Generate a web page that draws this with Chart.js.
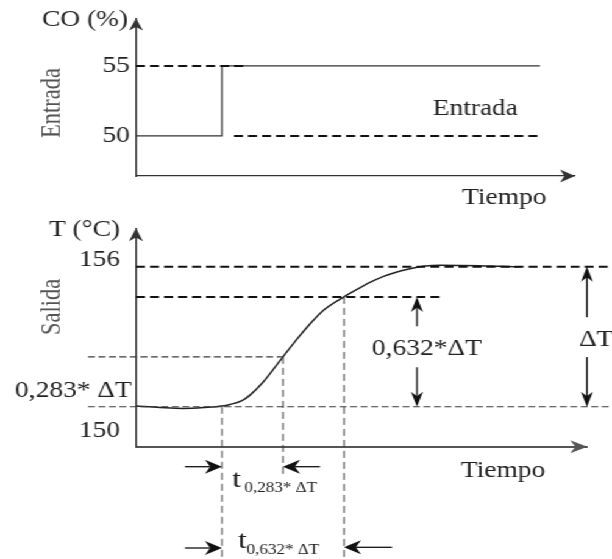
<!DOCTYPE html>
<html>
<head>
<meta charset="utf-8">
<script src="https://cdn.jsdelivr.net/npm/chart.js@4.4.1/dist/chart.umd.min.js"></script>
<style>
  html, body { margin: 0; padding: 0; background: #fff; overflow: hidden; }
  /* the sheet is laid out narrow and widened uniformly, like a wide-format figure */
  #sheet { position: absolute; left: 0; top: 0; width: 502px; height: 559px;
           transform: scaleX(1.21912); transform-origin: 0 0; }
  #sheet canvas { position: absolute; left: 0; }
  #entrada { top: 0; }
  #salida { top: 215px; }
</style>
</head>
<body>
<div id="sheet">
  <canvas id="entrada" width="502" height="215"></canvas>
  <canvas id="salida" width="502" height="344"></canvas>
</div>
<script>
// ---------- input step (controller output, %) ----------
const stepTime = 8.6;
const coLevels = [50, 55];
const coTime = [0, 8.6, 8.6, 40.4];
const coValue = [50, 50, 55, 55];
const coTicks = [50, 55];

// ---------- process response (temperature, °C) ----------
const tempTime = [0, 2.4, 4.7, 6.9, 8.6, 9.4, 10.6, 11.4, 12.7, 14.7, 16.1, 17.4, 18.7, 20.8, 22.1, 23.4, 24.7, 26.1, 27.4, 28.7, 30.4, 34.4, 36.4, 38.5];
const tempValue = [150.03, 149.97, 149.93, 149.97, 150.03, 150.10, 150.26, 150.50, 151.05, 152.14, 152.90, 153.55, 154.12, 154.71, 155.03, 155.33, 155.58, 155.78, 155.92, 156.02, 156.07, 156.05, 156.02, 156.0];
const tempTicks = [150, 156];
// crossing points used for the two-point method
const levelNames = ['0,283* ΔT', '0,632*ΔT'];
const levelTimes = [14.7, 20.8];
const levelValues = [152.14, 154.71];

// ---------- drawing helpers ----------
const STRETCH = 612 / 502;
const SERIF = '"Liberation Serif", "Times New Roman", serif';
const INK = '#222';

function font(size) { return size + 'px ' + SERIF; }

function head(ctx, x, y, dir, len, half) {
  const dx = dir[0], dy = dir[1], px = -dy, py = dx;
  const pt = (a, b) => [x + a / STRETCH, y + b];
  const p = [
    pt(0, 0),
    pt(-dx * len + px * half, -dy * len + py * half),
    pt(-dx * len * 0.7, -dy * len * 0.7),
    pt(-dx * len - px * half, -dy * len - py * half)
  ];
  ctx.beginPath();
  ctx.moveTo(p[0][0], p[0][1]);
  for (let i = 1; i < p.length; i++) ctx.lineTo(p[i][0], p[i][1]);
  ctx.closePath();
  ctx.fill();
}

function shaft(ctx, x1, y1, x2, y2) {
  ctx.beginPath();
  ctx.moveTo(x1, y1);
  ctx.lineTo(x2, y2);
  ctx.stroke();
}

function text(ctx, str, x, y, size, align) {
  ctx.font = font(size);
  ctx.textAlign = align || 'left';
  ctx.textBaseline = 'alphabetic';
  ctx.fillText(str, x, y);
}

function sideText(ctx, str, x, y, size) {
  ctx.save();
  ctx.translate(x, y);
  ctx.rotate(-Math.PI / 2);
  ctx.font = font(size);
  ctx.textAlign = 'center';
  ctx.textBaseline = 'middle';
  ctx.fillText(str, 0, 0);
  ctx.restore();
}

const THICK = { borderWidth: 2, borderColor: '#111', borderDash: [7.4, 4.1] };
const THIN = { borderWidth: 1.1, borderColor: '#3a3a3a', borderDash: [5.7, 2.9] };
const THIN_V = { borderWidth: 1.0, borderColor: '#3a3a3a', borderDash: [7, 4] };

function guide(points, style) {
  return Object.assign({
    data: points, showLine: true, pointRadius: 0, pointHoverRadius: 0,
    tension: 0, clip: false, fill: false
  }, style);
}

function frame(xMax, yMin, yMax, xHeight, axisColor, axisWidth) {
  return {
    x: {
      type: 'linear', min: 0, max: xMax,
      grid: { display: false, drawTicks: false },
      ticks: { display: false },
      border: { display: true, color: axisColor, width: axisWidth },
      afterFit: s => { s.height = xHeight; }
    },
    y: {
      type: 'linear', min: yMin, max: yMax,
      grid: { display: false, drawTicks: false },
      border: { display: true, color: '#333', width: 1.3 },
      ticks: { color: INK, padding: 5, font: { family: SERIF, size: 22.5 } },
      afterFit: s => { s.width = 111.55; }
    }
  };
}

function commonOptions(scales, padding) {
  return {
    responsive: false, animation: false, events: [],
    layout: { padding: padding },
    plugins: { legend: { display: false }, tooltip: { enabled: false } },
    scales: scales
  };
}

// ---------- upper panel: step in the input ----------
const topScales = frame(43.9, 47.14, 58.39, 39, '#333', 1.3);
topScales.y.afterBuildTicks = s => { s.ticks = coTicks.map(v => ({ value: v })); };

new Chart(document.getElementById('entrada'), {
  type: 'scatter',
  data: {
    datasets: [
      guide([{ x: 0, y: coLevels[1] }, { x: 11.1, y: coLevels[1] }], THICK),
      guide([{ x: 9.8, y: coLevels[0] }, { x: 40.4, y: coLevels[0] }], THICK),
      guide(coTime.map((t, i) => ({ x: t, y: coValue[i] })), { borderWidth: 1.3, borderColor: '#333' })
    ]
  },
  options: commonOptions(topScales, { left: 0, top: 18.5, right: 30.35, bottom: 0 }),
  plugins: [{
    id: 'entradaMarks',
    afterDraw(chart) {
      const { ctx, chartArea: a } = chart;
      ctx.save();
      ctx.fillStyle = '#333';
      head(ctx, a.left, a.top, [0, -1], 12, 7);
      head(ctx, a.right, a.bottom, [1, 0], 15, 6.5);
      ctx.fillStyle = INK;
      text(ctx, 'CO (%)', 34.5, 26, 22.5);
      text(ctx, 'Entrada', 354.9, 115, 22.5);
      text(ctx, 'Tiempo', 379.0, 204, 22.5);
      ctx.fillStyle = '#555';
      sideText(ctx, 'Entrada', 43.5, 103, 22.5);
      ctx.restore();
    }
  }]
});

// ---------- lower panel: temperature response ----------
const guideLeft = -4.8, guideRight = 47.6;
const guideFoot = 143.47, shortFoot = 147.0;

const botScales = frame(45.13, 148.29, 157.65, 112.3, '#555', 2);
botScales.y.ticks.display = false;
botScales.y.afterBuildTicks = s => { s.ticks = tempTicks.map(v => ({ value: v })); };

const spans = [
  { t: 28.1, top: levelValues[1], topTail: 153.45, bottom: tempTicks[0], bottomTail: 151.70 },
  { t: 45.1, top: tempTicks[1], topTail: 153.84, bottom: tempTicks[0], bottomTail: 152.13 }
];
const timeMarks = [
  { tip: stepTime, dir: 1, below: 20, len: 37 },
  { tip: levelTimes[0], dir: -1, below: 20, len: 37 },
  { tip: stepTime, dir: 1, below: 101.3, len: 37 },
  { tip: levelTimes[1], dir: -1, below: 100.6, len: 48 }
];

new Chart(document.getElementById('salida'), {
  type: 'scatter',
  data: {
    datasets: [
      guide([{ x: 0, y: tempTicks[1] }, { x: guideRight, y: tempTicks[1] }], THICK),
      guide([{ x: 0, y: levelValues[1] }, { x: 30.6, y: levelValues[1] }], THICK),
      guide([{ x: guideLeft, y: levelValues[0] }, { x: levelTimes[0], y: levelValues[0] }], THIN),
      guide([{ x: guideLeft, y: tempTicks[0] }, { x: guideRight, y: tempTicks[0] }], THIN),
      guide([{ x: stepTime, y: tempTicks[0] }, { x: stepTime, y: guideFoot }], THIN_V),
      guide([{ x: levelTimes[0], y: levelValues[0] }, { x: levelTimes[0], y: shortFoot }], THIN_V),
      guide([{ x: levelTimes[1], y: levelValues[1] }, { x: levelTimes[1], y: guideFoot }], THIN_V),
      Object.assign(guide(tempTime.map((t, i) => ({ x: t, y: tempValue[i] })),
        { borderWidth: 1.5, borderColor: '#222' }), { cubicInterpolationMode: 'monotone' })
    ]
  },
  options: commonOptions(botScales, { left: 0, top: 13.3, right: 20.3, bottom: 0 }),
  plugins: [{
    id: 'salidaMarks',
    afterDraw(chart) {
      const { ctx, chartArea: a, scales: { x, y } } = chart;
      ctx.save();
      ctx.fillStyle = '#333';
      head(ctx, a.left, a.top, [0, -1], 13, 7);
      ctx.fillStyle = '#555';
      head(ctx, a.right, a.bottom, [1, 0], 17, 6.5);

      // vertical span arrows (0,632·ΔT and ΔT)
      ctx.fillStyle = '#111';
      ctx.strokeStyle = '#111';
      ctx.lineWidth = 1.3;
      for (const s of spans) {
        const px = x.getPixelForValue(s.t);
        const pairs = [[s.topTail, s.top], [s.bottomTail, s.bottom]];
        for (const [from, to] of pairs) {
          const y1 = y.getPixelForValue(from), y2 = y.getPixelForValue(to);
          const d = Math.sign(y2 - y1);
          shaft(ctx, px, y1, px, y2 - d * 10);
          head(ctx, px, y2, [0, d], 15, 6);
        }
      }

      // horizontal time arrows under the axis
      for (const m of timeMarks) {
        const tx = x.getPixelForValue(m.tip);
        const ty = a.bottom + m.below;
        const tail = tx - m.dir * m.len / STRETCH;
        shaft(ctx, tail, ty, tx - m.dir * 12 / STRETCH, ty);
        head(ctx, tx, ty, [m.dir, 0], 17, 7);
      }

      ctx.fillStyle = INK;
      text(ctx, 'T (°C)', 40.2, 21, 22.5);
      text(ctx, String(tempTicks[1]), a.left - 13.1, y.getPixelForValue(tempTicks[1]) - 1, 22.5, 'right');
      text(ctx, String(tempTicks[0]), a.left - 13.1, y.getPixelForValue(tempTicks[0]) + 30, 22.5, 'right');
      text(ctx, levelNames[0], 12.3, y.getPixelForValue(tempTicks[0]) - 10, 22.5);
      text(ctx, levelNames[1], 305.1, 140, 22.5);
      text(ctx, 'ΔT', 474.9, 131, 22.5);
      text(ctx, 'Tiempo', 378.1, 261.7, 22.5);

      text(ctx, 't', 190.6, 271.5, 26);
      text(ctx, levelNames[0], 200.6, 276.5, 14);
      text(ctx, 't', 195.2, 333, 26);
      text(ctx, '0,632* ΔT', 202.2, 339, 14);

      ctx.fillStyle = '#555';
      sideText(ctx, 'Salida', 43.1, 92, 22.5);
      ctx.restore();
    }
  }]
});
</script>
</body>
</html>
